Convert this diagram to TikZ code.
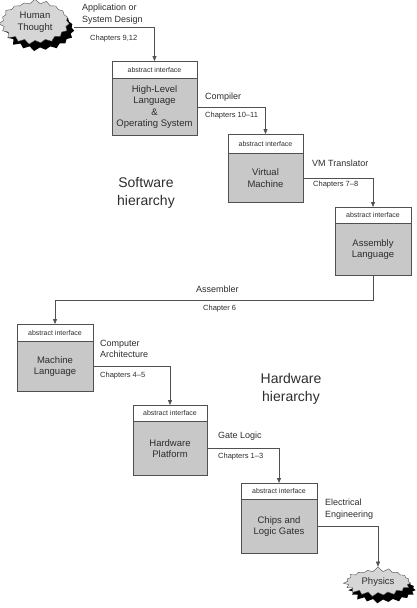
\documentclass[tikz,border=0pt]{standalone}
\usepackage{fontspec}
\setmainfont{Liberation Sans}
\usetikzlibrary{arrows.meta,shapes.symbols,shadows}

\definecolor{linegray}{RGB}{80,80,80}
\definecolor{boxgray}{RGB}{200,200,200}
\definecolor{burstgray}{RGB}{214,214,214}
\definecolor{textgray}{RGB}{45,45,45}

\tikzset{
  iface/.style={draw=linegray, fill=white, anchor=north, inner sep=0pt,
    minimum height=17pt, text=textgray, font=\fontsize{7}{8}\selectfont},
  layer/.style={draw=linegray, fill=boxgray, anchor=north, inner sep=0pt,
    align=center, text=textgray, font=\fontsize{9.5}{11.5}\selectfont},
  edgelbl/.style={anchor=west, align=left, inner sep=0pt, text=textgray,
    font=\fontsize{9}{11.5}\selectfont},
  chaplbl/.style={anchor=west, inner sep=0pt, text=textgray,
    font=\fontsize{7.5}{9}\selectfont},
  biglbl/.style={align=center, inner sep=0pt, text=textgray,
    font=\fontsize{14}{18}\selectfont},
  burst/.style={starburst, starburst points=19, starburst point height=5pt,
    random starburst=7, draw=linegray, fill=burstgray, inner xsep=5pt, inner ysep=3pt,
    align=center, text=textgray, font=\fontsize{9.5}{11.5}\selectfont,
    drop shadow={fill=black, opacity=1, shadow xshift=5pt, shadow yshift=-7pt}},
  link/.style={draw=linegray, -{Triangle[length=5pt,width=4pt]}}
}

\begin{document}
\begin{tikzpicture}[x=1pt, y=-1pt]
  \useasboundingbox (0,0) rectangle (417,608);

  % the two ends
  \node[burst, minimum width=66pt, minimum height=42pt] (ht) at (35,22) {Human\\Thought};
  \node[burst, minimum width=54pt, minimum height=30pt] (phys) at (378,582) {Physics};

  % software layers
  \node[iface, minimum width=85pt] (hll-h) at (154.5,61) {abstract interface};
  \node[layer, minimum width=85pt, minimum height=57pt] (hll) at (hll-h.south)
    {High-Level\\Language\\\&\\Operating System};
  \node[iface, minimum width=75pt, minimum height=19pt] (vm-h) at (265.5,134) {abstract interface};
  \node[layer, minimum width=75pt, minimum height=49pt] (vm) at (vm-h.south)
    {Virtual\\Machine};
  \node[iface, minimum width=76pt, minimum height=16pt] (asm-h) at (373,207) {abstract interface};
  \node[layer, minimum width=76pt, minimum height=52pt] (asm) at (asm-h.south)
    {Assembly\\Language};

  % hardware layers
  \node[iface, minimum width=76pt] (ml-h) at (55,324) {abstract interface};
  \node[layer, minimum width=76pt, minimum height=50pt] (ml) at (ml-h.south)
    {Machine\\Language};
  \node[iface, minimum width=74pt, minimum height=16pt] (hw-h) at (170,405) {abstract interface};
  \node[layer, minimum width=74pt, minimum height=54pt] (hw) at (hw-h.south)
    {Hardware\\Platform};
  \node[iface, minimum width=76pt, minimum height=16pt] (chips-h) at (279,483) {abstract interface};
  \node[layer, minimum width=76pt, minimum height=54pt] (chips) at (chips-h.south)
    {Chips and\\Logic Gates};

  % hierarchy titles
  \node[biglbl] (sw) at (146,193) {Software\\hierarchy};
  \node[biglbl] (hwt) at (291,389) {Hardware\\hierarchy};

  % edge labels
  \node[edgelbl] (app) at (82,14) {Application or\\System Design};
  \node[chaplbl] (ch912) at (90,39) {Chapters 9,12};
  \node[edgelbl] (comp) at (205,97) {Compiler};
  \node[chaplbl] (ch1011) at (205,116) {Chapters 10\textendash 11};
  \node[edgelbl] (vmt) at (312,163) {VM Translator};
  \node[chaplbl] (ch78) at (313,185) {Chapters 7\textendash 8};
  \node[edgelbl] (assem) at (196,289) {Assembler};
  \node[chaplbl] (ch6) at (203,309) {Chapter 6};
  \node[edgelbl] (arch) at (100,349) {Computer\\Architecture};
  \node[chaplbl] (ch45) at (100,376) {Chapters 4\textendash 5};
  \node[edgelbl] (gate) at (218,436) {Gate Logic};
  \node[chaplbl] (ch13) at (218,457) {Chapters 1\textendash 3};
  \node[edgelbl] (elec) at (325,509) {Electrical\\Engineering};

  % connectors
  \draw[link] ([xshift=6pt,yshift=-5pt]ht.east) -| (hll-h.north);
  \draw[link] (hll.east) -| (vm-h.north);
  \draw[link] (vm.east) -| (asm-h.north);
  \draw[link] (asm.south) -- ++(0,24) -| (ml-h.north);
  \draw[link] (ml.east) -| (hw-h.north);
  \draw[link] (hw.east) -| (chips-h.north);
  \draw[link] (chips.east) -| (phys.north);
\end{tikzpicture}
\end{document}
